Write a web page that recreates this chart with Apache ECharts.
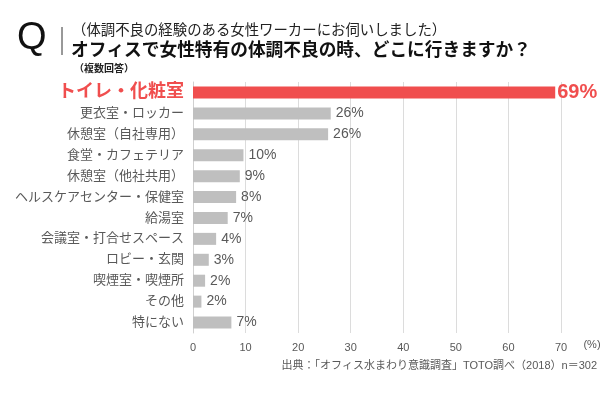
<!DOCTYPE html>
<html>
<head>
<meta charset="utf-8">
<script src="https://cdn.jsdelivr.net/npm/echarts@6/dist/echarts.min.js"></script>
<style>
  html, body { margin: 0; padding: 0; background: #fff; }
  #chart { width: 615px; height: 397px; }
</style>
</head>
<body>
<div id="chart"></div>
<script>
const FONT = '"Liberation Sans", "Noto Sans CJK JP", sans-serif'

const categories = [
  'トイレ・化粧室',
  '更衣室・ロッカー',
  '休憩室（自社専用）',
  '食堂・カフェテリア',
  '休憩室（他社共用）',
  'ヘルスケアセンター・保健室',
  '給湯室',
  '会議室・打合せスペース',
  'ロビー・玄関',
  '喫煙室・喫煙所',
  'その他',
  '特にない',
]
const values = [68.9, 26.2, 25.7, 9.6, 8.9, 8.2, 6.6, 4.4, 3.0, 2.3, 1.6, 7.3]
const xTicks = [0, 10, 20, 30, 40, 50, 60, 70]

const RED = '#f04e4e'
const GRAY_BAR = '#bfbfbf'
const TEXT = '#595959'

const chart = echarts.init(document.getElementById('chart'))

const barData = values.map((v, i) => {
  if (i === 0) {
    return {
      value: v,
      itemStyle: { color: RED },
      label: { color: RED, fontSize: 20, fontWeight: 'bold', distance: 2 },
    }
  }
  return v
})

chart.setOption({
  backgroundColor: '#fff',
  textStyle: { fontFamily: FONT },
  grid: { left: 193, right: 54, top: 82, bottom: 64 },
  xAxis: {
    type: 'value',
    min: xTicks[0],
    max: xTicks[xTicks.length - 1],
    interval: 10,
    axisLine: { show: false },
    axisTick: { show: false },
    splitLine: { lineStyle: { color: '#dcdcdc', width: 1 } },
    axisLabel: { color: TEXT, fontSize: 11, margin: 9, fontFamily: FONT },
  },
  yAxis: {
    type: 'category',
    inverse: true,
    data: categories,
    axisLine: { show: true, lineStyle: { color: '#d0d0d0' } },
    axisTick: { show: false },
    axisLabel: {
      margin: 9,
      formatter: (v, i) => (i === 0 ? '{hl|' + v + '}' : '{n|' + v + '}'),
      rich: {
        hl: { color: RED, fontSize: 18, fontWeight: 'bold', fontFamily: FONT },
        n: { color: TEXT, fontSize: 13, fontFamily: FONT },
      },
    },
  },
  series: [{
    type: 'bar',
    data: barData,
    barWidth: 12,
    itemStyle: { color: GRAY_BAR },
    label: {
      show: true,
      position: 'right',
      distance: 5,
      color: TEXT,
      fontSize: 14,
      fontFamily: FONT,
      formatter: p => Math.round(p.value) + '%',
    },
    silent: true,
    animation: false,
  }],
  graphic: [
    { type: 'text', left: 17, top: 20, style: { text: 'Q', font: '38px "Liberation Sans", sans-serif', fill: '#111' } },
    { type: 'line', shape: { x1: 62, y1: 27, x2: 62, y2: 55 }, style: { stroke: '#333', lineWidth: 1 } },
    { type: 'text', x: 72, y: 30, style: { text: '（体調不良の経験のある女性ワーカーにお伺いしました）', font: '14.4px "Noto Sans CJK JP"', fill: '#222', verticalAlign: 'middle' } },
    { type: 'text', x: 71, y: 49, style: { text: 'オフィスで女性特有の体調不良の時、どこに行きますか？', font: 'bold 17.7px "Noto Sans CJK JP"', fill: '#111', verticalAlign: 'middle' } },
    { type: 'text', x: 74, y: 68, style: { text: '（複数回答）', font: 'bold 10px "Noto Sans CJK JP"', fill: '#222', verticalAlign: 'middle' } },
    { type: 'text', x: 592, y: 345, style: { text: '(%)', font: '11px "Liberation Sans"', fill: TEXT, align: 'center', verticalAlign: 'middle' } },
    { type: 'text', x: 597, y: 366, style: { text: '出典：「オフィス水まわり意識調査」TOTO調べ（2018）n＝302', font: '11px "Liberation Sans", "Noto Sans CJK JP"', fill: TEXT, align: 'right', verticalAlign: 'middle' } },
  ],
})
</script>
</body>
</html>
